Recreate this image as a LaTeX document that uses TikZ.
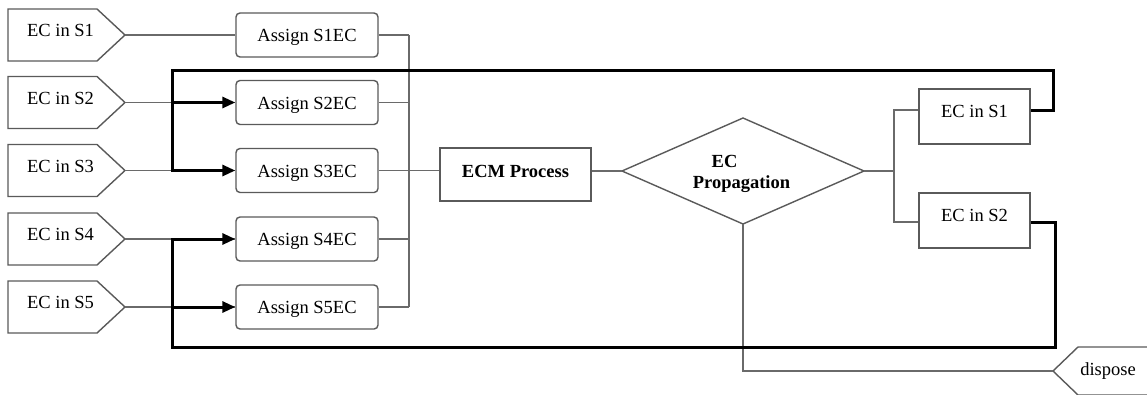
\documentclass[tikz,border=0pt]{standalone}
\usepackage{fontspec}
\setmainfont{Liberation Serif}
\usetikzlibrary{arrows.meta}
\definecolor{wiregray}{HTML}{6A6A6A}
\definecolor{boxgray}{HTML}{5A5A5A}
\begin{document}
\begin{tikzpicture}[x=1pt,y=-1pt,
  font=\fontsize{18.5}{22}\selectfont,
  wire/.style={draw=wiregray,line width=1.3pt},
  heavy/.style={draw=black,line width=3pt},
  arr/.style={-{Triangle[length=13pt,width=11pt]}},
  outline/.style={draw=boxgray,line width=1.4pt,fill=white},
  abox/.style={outline,rounded corners=4pt,minimum width=142pt,minimum height=44pt,inner sep=0pt,text height=13pt,text depth=0pt},
  ebox/.style={outline,minimum width=151pt,minimum height=53pt,inner sep=0pt,text height=13pt,text depth=8pt,font=\fontsize{18.5}{22}\selectfont\bfseries},
  rbox/.style={outline,minimum width=111pt,minimum height=55pt,inner sep=0pt,text height=13pt,text depth=12pt},
  lbl/.style={anchor=base,inner sep=0pt}
]
\clip (0,0) rectangle (1147,394);
\fill[white] (0,0) rectangle (1147,394);

% inputs, assign boxes, bus
\foreach \i/\c in {1/35,2/102.5,3/170.5,4/239,5/307}{
  \draw[outline] (8,{\c-26}) -- (97,{\c-26}) -- (125,\c) -- (97,{\c+26}) -- (8,{\c+26}) -- cycle;
  \node[lbl] (t\i) at (60.5,{\c+1.5}) {EC in S\i};
  \coordinate (in\i) at (125,\c);
  \node[abox] (a\i) at (307,\c) {Assign S\i EC};
  \coordinate (b\i) at (409,\c);
  \draw[wire] (in\i) -- (a\i.west);
  \draw[wire] (a\i.east) -- (b\i);
}
\draw[wire] (b1) -- (b5);

% ECM process
\node[ebox] (ecm) at (515.5,174.5) {ECM Process};
\draw[wire] (b3) -- (ecm.west |- b3);

% diamond
\coordinate (dl) at (622,171);
\coordinate (dt) at (743,118);
\coordinate (dr) at (864,171);
\coordinate (db) at (743,224);
\draw[outline] (dl) -- (dt) -- (dr) -- (db) -- cycle;
\node[lbl,font=\fontsize{18.5}{22}\selectfont\bfseries] (dtxt1) at (724.5,167) {EC};
\node[lbl,font=\fontsize{18.5}{22}\selectfont\bfseries] (dtxt2) at (741.5,188) {Propagation};
\draw[wire] (ecm.east |- dl) -- (dl);

% right boxes
\node[rbox] (r1) at (974.5,116.5) {EC in S1};
\node[rbox] (r2) at (974.5,220.5) {EC in S2};
\coordinate (split) at (894,171);
\draw[wire] (dr) -- (split);
\draw[wire] (split) |- ([yshift=6.5pt]r1.west);
\draw[wire] (split) |- ([yshift=-1.5pt]r2.west);

% dispose
\coordinate (dtip) at (1053,371);
\draw[outline] (1160,347) -- (1078,347) -- (dtip) -- (1078,395) -- (1160,395);
\node[lbl] (disp) at (1108,375) {dispose};
\draw[wire] (db) |- (dtip);

% feedback loops
\coordinate (j1) at (172,70);
\coordinate (j2) at (172,347);
\draw[heavy,arr] ([yshift=6.5pt]r1.east) -| (1053,70) -- (j1) |- (a3.west);
\draw[heavy,arr] (j1 |- a2.west) -- (a2.west);
\draw[heavy,arr] ([yshift=-1.5pt]r2.east) -| (1055,347) -- (j2) |- (a4.west);
\draw[heavy,arr] (j2 |- a5.west) -- (a5.west);
\end{tikzpicture}
\end{document}
